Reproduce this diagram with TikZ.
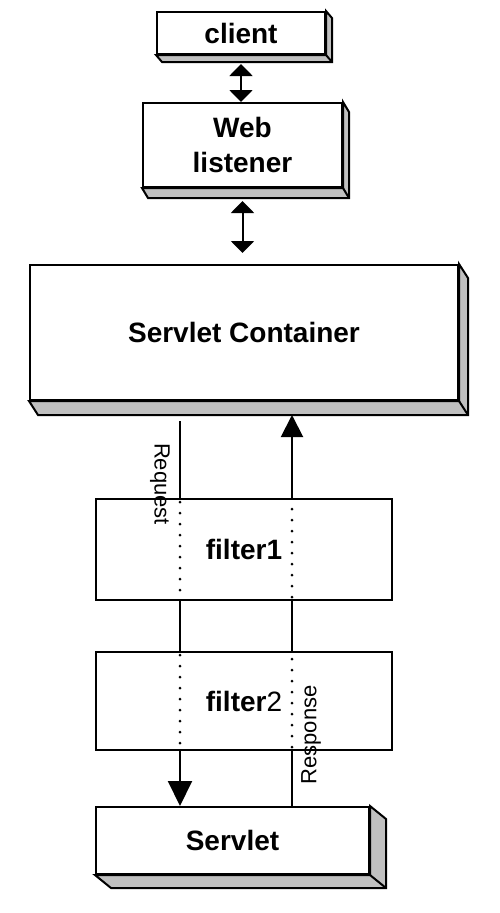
\documentclass[tikz,border=0pt]{standalone}
\usepackage{fontspec}
\setmainfont{Liberation Sans}
\usetikzlibrary{arrows.meta}
\definecolor{sh}{HTML}{C0C0C0}
\newcommand\slab[3]{%
  \filldraw[side] (#1.south west) -- ++(#2,#3) -- ([shift={(#2,#3)}]#1.south east)
    -- ([shift={(#2,#3)}]#1.north east) -- (#1.north east) -- (#1.south east) -- cycle;
  \draw (#1.south east) -- ++(#2,#3);}
\begin{document}
\begin{tikzpicture}[x=1pt,y=-1pt,line width=2pt,
  box/.style={draw,fill=white,inner sep=0pt,align=center,
    font=\fontsize{28}{35}\selectfont\bfseries},
  side/.style={fill=sh,draw,line join=miter},
  dots/.style={dash pattern=on 0pt off 11pt,line cap=round,line width=3pt,shorten <=4pt,shorten >=3pt},
  lbl/.style={inner sep=0pt,font=\fontsize{22}{26}\selectfont},
  dbl/.style={{Triangle[width=23pt,length=12pt]}-{Triangle[width=23pt,length=12pt]}}]
\useasboundingbox (0,0) rectangle (500,913);

\node[box,minimum width=168pt,minimum height=42pt] (client) at (241,33) {client};
\node[box,minimum width=199pt,minimum height=84pt] (web) at (242.5,145) {Web\\listener};
\node[box,minimum width=428pt,minimum height=135pt] (cont) at (244,332.5) {Servlet Container};
\node[box,minimum width=296pt,minimum height=101pt] (f1) at (244,549.5) {filter1};
\node[box,minimum width=296pt,minimum height=98pt] (f2) at (244,701) {filter\mdseries 2};
\node[box,minimum width=273pt,minimum height=67pt] (servlet) at (232.5,840.5) {Servlet};

\slab{client}{6}{7}
\slab{web}{6}{10}
\slab{cont}{9}{14}
\slab{servlet}{16}{13}

\draw[dbl,shorten <=9pt] (client.south) -- (client.south |- web.north);
\draw[dbl,shorten <=13pt,shorten >=11pt] (web.south) -- (web.south |- cont.north);

\coordinate (rq) at (180,0);
\coordinate (rs) at (292,0);

% request path
\draw[shorten <=20pt] (cont.south -| rq) -- (f1.north -| rq);
\draw[dots] (f1.north -| rq) -- (f1.south -| rq);
\draw (f1.south -| rq) -- (f2.north -| rq);
\draw[dots] (f2.north -| rq) -- (f2.south -| rq);
\draw[-{Triangle[width=24pt,length=25pt]}] (f2.south -| rq) -- (servlet.north -| rq);

% response path
\draw (servlet.north -| rs) -- (f2.south -| rs);
\draw[dots] (f2.south -| rs) -- (f2.north -| rs);
\draw (f2.north -| rs) -- (f1.south -| rs);
\draw[dots] (f1.south -| rs) -- (f1.north -| rs);
\draw[-{Triangle[width=22pt,length=22pt]},shorten >=14pt] (f1.north -| rs) -- (cont.south -| rs);

\node[lbl,rotate=-90] (req) at (160,484) {Request};
\node[lbl,rotate=90] (resp) at (311,735) {Response};
\end{tikzpicture}
\end{document}
